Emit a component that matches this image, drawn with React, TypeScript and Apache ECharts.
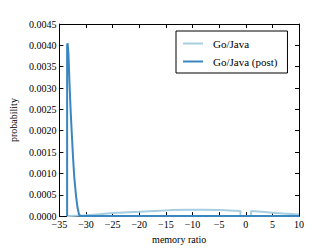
import React, { useEffect, useRef } from "react";
import * as echarts from "echarts";

const goJava: [number, number][] = [
  [-33.6, 0], [-32, 0.00001], [-30, 0.00002], [-28, 0.00004], [-25, 0.00007],
  [-22, 0.00009], [-20, 0.0001], [-17, 0.00012], [-14, 0.00014], [-11, 0.00015],
  [-8, 0.00015], [-5, 0.00014], [-3, 0.00013], [-1, 0.00012], [-1, 0],
  [1, 0], [1, 0.00012], [3, 0.0001], [5, 0.00008], [7, 0.00006], [10, 0.00004],
];

const goJavaPost: [number, number][] = [
  [-33.55, 0], [-33.55, 0.004], [-33.45, 0.00405], [-33.3, 0.0038], [-33.1, 0.0031],
  [-32.9, 0.0025], [-32.7, 0.002], [-32.45, 0.0014], [-32.2, 0.0009], [-31.9, 0.0005],
  [-31.6, 0.0002], [-31.3, 0.00003], [-31, 0], [10, 0],
];

const seriesNames = ["Go/Java", "Go/Java (post)"];
const xTicks = { min: -35, max: 10, interval: 5 };
const yTicks = { min: 0, max: 0.0045, interval: 0.0005 };

const FONT = "Liberation Serif";

export default function App() {
  const ref = useRef<HTMLDivElement>(null);
  useEffect(() => {
    const chart = echarts.init(ref.current!, null, { renderer: "svg" });
    const axisLine = { show: true, onZero: false, lineStyle: { color: "#000", width: 1 } };
    const tick = { show: true, inside: true, length: 4, lineStyle: { color: "#000" } };
    chart.setOption({
      animation: false,
      backgroundColor: "#fff",
      grid: { left: 42, right: 33, top: 24, bottom: 26 },
      legend: {
        data: seriesNames,
        orient: "vertical",
        left: 176,
        top: 31,
        width: 116,
        padding: [7, 10, 6, 7],
        itemGap: 7,
        itemWidth: 20,
        itemHeight: 2,
        icon: "rect",
        borderColor: "#000",
        borderWidth: 1,
        borderRadius: 0,
        backgroundColor: "#fff",
        textStyle: { fontFamily: FONT, fontSize: 11, color: "#000", padding: [0, 0, 0, 5] },
      },
      xAxis: [
        {
          type: "value",
          min: xTicks.min, max: xTicks.max, interval: xTicks.interval,
          name: "memory ratio", nameLocation: "middle", nameGap: 17,
          nameTextStyle: { fontFamily: FONT, fontSize: 10, color: "#000" },
          axisLine, axisTick: tick, splitLine: { show: false },
          axisLabel: {
            fontFamily: FONT, fontSize: 10, color: "#000", margin: 3,
            formatter: (v: number) => String(v).replace("-", "\u2212"),
          },
        },
        {
          type: "value", position: "top",
          min: xTicks.min, max: xTicks.max, interval: xTicks.interval,
          axisLine, axisTick: tick, splitLine: { show: false }, axisLabel: { show: false },
        },
      ],
      yAxis: [
        {
          type: "value",
          min: yTicks.min, max: yTicks.max, interval: yTicks.interval,
          name: "probability", nameLocation: "middle", nameGap: 33, nameRotate: 90,
          nameTextStyle: { fontFamily: FONT, fontSize: 10, color: "#000" },
          axisLine, axisTick: tick, splitLine: { show: false },
          axisLabel: {
            fontFamily: FONT, fontSize: 10, color: "#000", margin: 3,
            formatter: (v: number) => v.toFixed(4),
          },
        },
        {
          type: "value", position: "right",
          min: yTicks.min, max: yTicks.max, interval: yTicks.interval,
          axisLine, axisTick: tick, splitLine: { show: false }, axisLabel: { show: false },
        },
      ],
      series: [
        {
          name: seriesNames[0], type: "line", data: goJava, showSymbol: false,
          smooth: false, lineStyle: { color: "#a6cee3", width: 2 }, itemStyle: { color: "#a6cee3" },
        },
        {
          name: seriesNames[1], type: "line", data: goJavaPost, showSymbol: false,
          smooth: false, lineStyle: { color: "#3a87c0", width: 2 }, itemStyle: { color: "#3a87c0" },
        },
      ],
    });
    return () => chart.dispose();
  }, []);
  return (
    <div
      ref={ref}
      style={{ position: "fixed", left: 0, top: 0, width: 332, height: 249 }}
    />
  );
}
